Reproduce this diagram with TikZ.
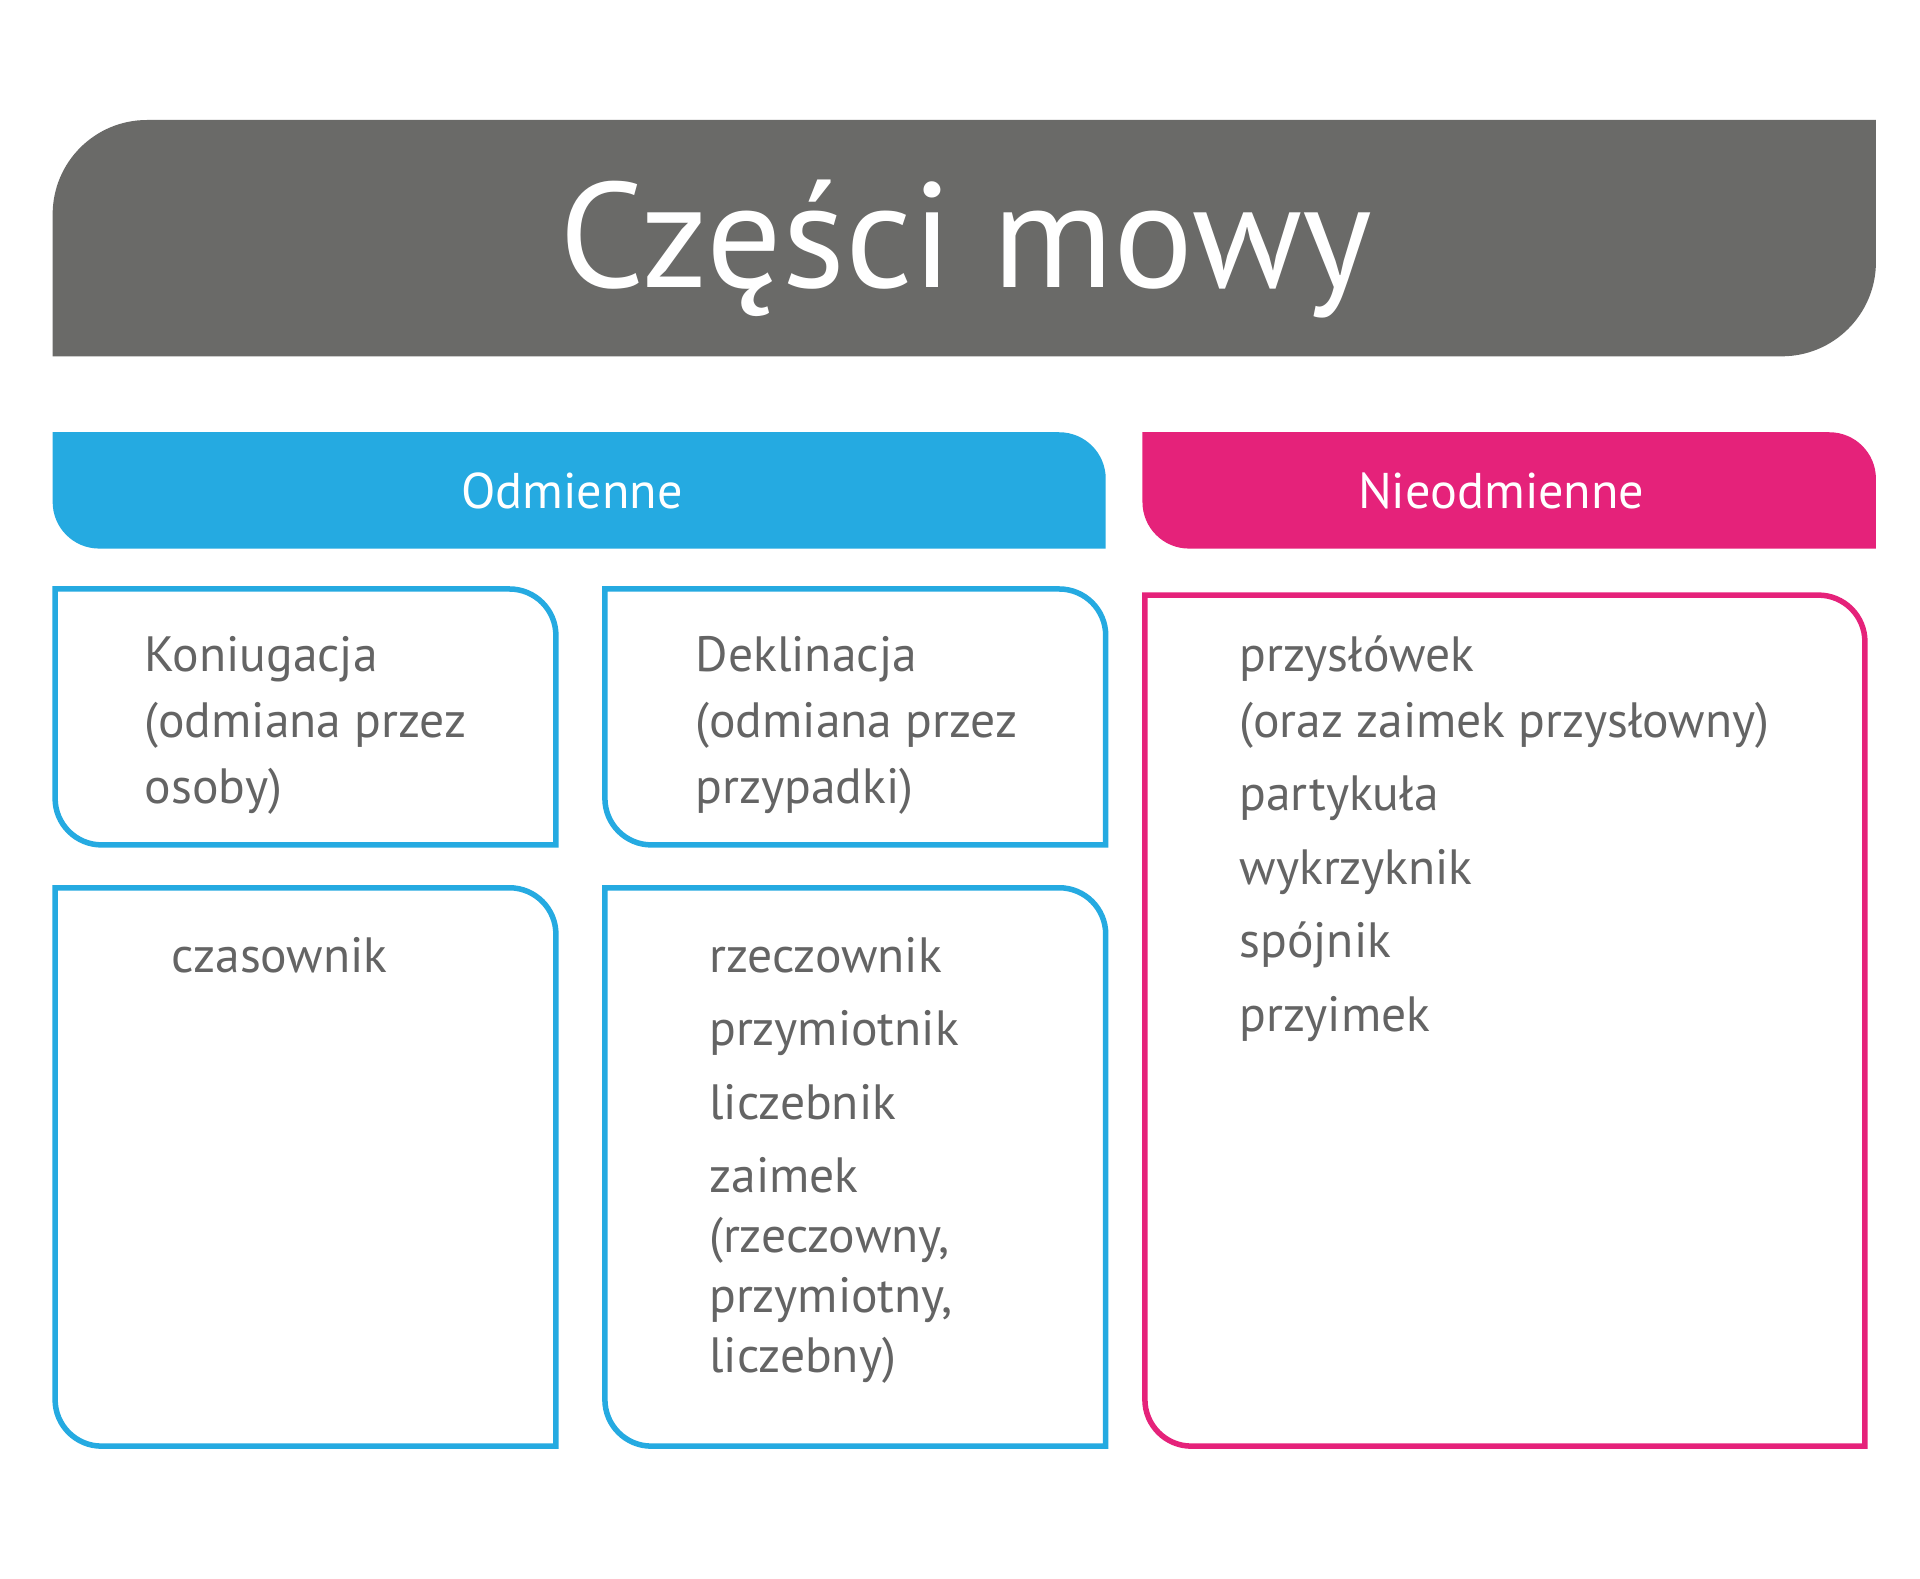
\documentclass[tikz,border=0pt]{standalone}
\usepackage{fontspec}
\setmainfont{PT Sans}
\definecolor{titlegray}{HTML}{6A6A68}
\definecolor{odblue}{HTML}{25AAE1}
\definecolor{nipink}{HTML}{E5227A}
\definecolor{txtgray}{HTML}{646464}
% box with rounded top-right and bottom-left corners
\newcommand\trblbox[6][]{%
  \path[#1] (#2,#3) -- ({#4-#6},#3) .. controls ({#4-0.4477*#6},#3) and (#4,{#3+0.4477*#6}) .. (#4,{#3+#6})
    -- (#4,#5) -- ({#2+#6},#5) .. controls ({#2+0.4477*#6},#5) and (#2,{#5-0.4477*#6}) .. (#2,{#5-#6}) -- cycle;}
% box with rounded top-left and bottom-right corners
\newcommand\tlbrbox[6][]{%
  \path[#1] (#2,#5) -- (#2,{#3+#6}) .. controls (#2,{#3+0.4477*#6}) and ({#2+0.4477*#6},#3) .. ({#2+#6},#3)
    -- (#4,#3) -- (#4,{#5-#6}) .. controls (#4,{#5-0.4477*#6}) and ({#4-0.4477*#6},#5) .. ({#4-#6},#5) -- cycle;}
\tikzset{
  bodytxt/.style={anchor=base west, inner sep=0pt, text=txtgray, font=\fontsize{40.5}{48}\selectfont},
  bartxt/.style={anchor=base, inner sep=0pt, text=white, font=\fontsize{41}{49}\selectfont},
  bluebox/.style={draw=odblue, line width=4.5pt},
  pinkbox/.style={draw=nipink, line width=4.5pt},
}
\begin{document}
\begin{tikzpicture}[x=1pt,y=-1pt]
\fill[white] (0,0) rectangle (1568,1289.5);
\useasboundingbox (0,0) rectangle (1568,1289.5);
% title
\tlbrbox[fill=titlegray]{43}{98}{1532}{291}{77}
\node[anchor=base, inner sep=0pt, text=white, font=\fontsize{122}{140}\selectfont] (title) at (789,235) {Części mowy};
% header bars
\trblbox[fill=odblue]{43}{353}{903}{448}{38}
\trblbox[fill=nipink]{933}{353}{1532}{448}{38}
\node[bartxt] (odm) at (467,415) {Odmienne};
\node[bartxt] (nieodm) at (1226,415) {Nieodmienne};
% boxes
\trblbox[bluebox]{45}{481}{454}{690}{38}
\trblbox[bluebox]{494}{481}{903}{690}{38}
\trblbox[bluebox]{45}{725}{454}{1181}{38}
\trblbox[bluebox]{494}{725}{903}{1181}{38}
\trblbox[pinkbox]{935}{486}{1523}{1181}{38}
% Koniugacja
\node[bodytxt] (k1) at (118,548) {Koniugacja};
\node[bodytxt] (k2) at (118,602) {(odmiana przez};
\node[bodytxt] (k3) at (118,656) {osoby)};
% Deklinacja
\node[bodytxt] (d1) at (568,548) {Deklinacja};
\node[bodytxt] (d2) at (568,602) {(odmiana przez};
\node[bodytxt] (d3) at (568,656) {przypadki)};
% czasownik
\node[bodytxt] (c1) at (140,794) {czasownik};
% rzeczownik list
\node[bodytxt] (r1) at (579,794) {rzeczownik};
\node[bodytxt] (r2) at (579,854) {przymiotnik};
\node[bodytxt] (r3) at (579,914) {liczebnik};
\node[bodytxt] (r4) at (579,974) {zaimek};
\node[bodytxt] (r5) at (579,1023) {(rzeczowny,};
\node[bodytxt] (r6) at (579,1072) {przymiotny,};
\node[bodytxt] (r7) at (579,1121) {liczebny)};
% nieodmienne list
\node[bodytxt] (n1) at (1012,548) {przysłówek};
\node[bodytxt] (n2) at (1012,602) {(oraz zaimek przysłowny)};
\node[bodytxt] (n3) at (1012,662) {partykuła};
\node[bodytxt] (n4) at (1012,722) {wykrzyknik};
\node[bodytxt] (n5) at (1012,782) {spójnik};
\node[bodytxt] (n6) at (1012,842) {przyimek};
\end{tikzpicture}
\end{document}
